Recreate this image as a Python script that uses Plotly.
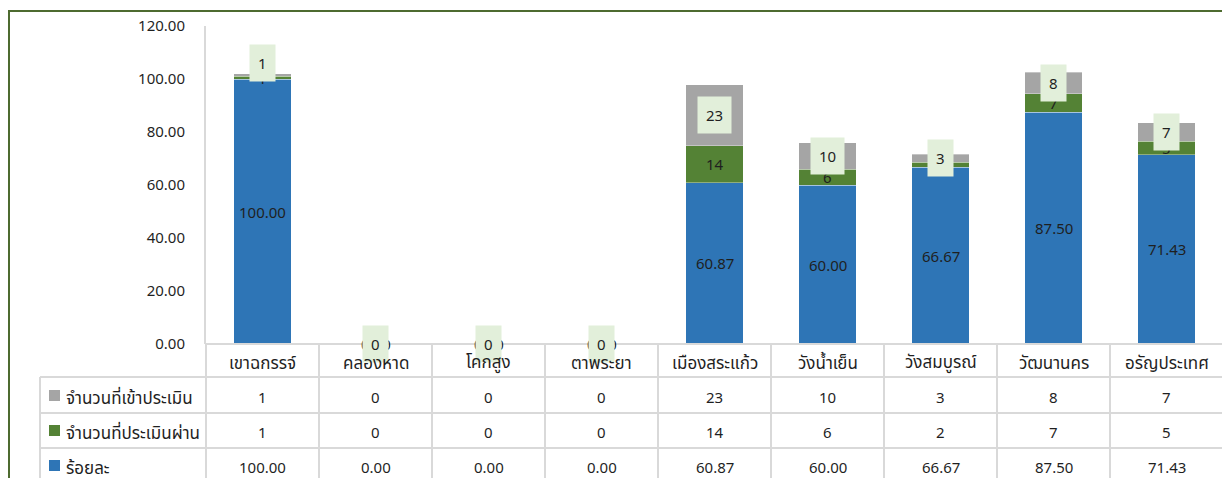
import plotly.graph_objects as go

categories = ["เขาฉกรรจ์", "คลองหาด", "โคกสูง", "ตาพระยา", "เมืองสระแก้ว",
              "วังน้ำเย็น", "วังสมบูรณ์", "วัฒนานคร", "อรัญประเทศ"]
assessed = [1, 0, 0, 0, 23, 10, 3, 8, 7]        # จำนวนที่เข้าประเมิน
passed = [1, 0, 0, 0, 14, 6, 2, 7, 5]           # จำนวนที่ประเมินผ่าน
percent = [100.00, 0.00, 0.00, 0.00, 60.87, 60.00, 66.67, 87.50, 71.43]  # ร้อยละ
series_names = ["จำนวนที่เข้าประเมิน", "จำนวนที่ประเมินผ่าน", "ร้อยละ"]
y_ticks = [0, 20, 40, 60, 80, 100, 120]

C_BLUE, C_GREEN, C_GRAY = "#2E75B6", "#548235", "#A5A5A5"
GRID = "#D9D9D9"
TXT = "#1F1F1F"
FONT = "Noto Sans, Noto Sans Thai, Tahoma, sans-serif"
NUM_SIZE = 15
THAI_SIZE = 17
GRAY_LABEL_SHIFT = {0: 12}  # label nudged above the thin top segment (pixels)

OFF = 8  # page body margin
W, H = 1230 - OFF, 478 - OFF
L, R, T, B = 206 - OFF, 7, 26 - OFF, 134
PW, PH = W - L - R, H - T - B


def px_x(x):
    return (x - OFF - L) / PW


def px_y(y):
    return (H - B - (y - OFF)) / PH


fig = go.Figure()
fig.add_trace(go.Bar(x=categories, y=percent, name=series_names[2], marker_color=C_BLUE,
                     marker_line=dict(color="rgba(255,255,255,0.35)", width=1)))
fig.add_trace(go.Bar(x=categories, y=passed, name=series_names[1], marker_color=C_GREEN,
                     marker_line=dict(color="rgba(255,255,255,0.35)", width=1)))
fig.add_trace(go.Bar(x=categories, y=assessed, name=series_names[0], marker_color=C_GRAY,
                     marker_line=dict(color="rgba(255,255,255,0.35)", width=1)))

num_font = dict(size=NUM_SIZE, color=TXT, family=FONT)
thai_font = dict(size=THAI_SIZE, color=TXT, family=FONT)

ann = []
for i, (c, p, g, a) in enumerate(zip(categories, percent, passed, assessed)):
    ann.append(dict(x=c, y=p / 2, xref="x", yref="y", text=f"{p:.2f}", showarrow=False,
                    yanchor="middle", font=num_font))
    ann.append(dict(x=c, y=p + g / 2, xref="x", yref="y", text=f"{g}", showarrow=False,
                    yanchor="middle", font=num_font))
    ann.append(dict(x=c, y=p + g + a / 2, xref="x", yref="y", text=f"{a}", showarrow=False,
                    yanchor="middle", bgcolor="#E2EFDA", borderpad=8, font=num_font,
                    yshift=GRAY_LABEL_SHIFT.get(i, 0)))

# data table below the chart
row_centers_px = [362, 397, 432, 467]
row_values = [categories, [str(v) for v in assessed], [str(v) for v in passed],
              [f"{v:.2f}" for v in percent]]
for k, (rc, vals) in enumerate(zip(row_centers_px, row_values)):
    for c, v in zip(categories, vals):
        ann.append(dict(x=c, y=px_y(rc), xref="x", yref="paper", text=v, showarrow=False,
                        xanchor="center", yanchor="middle",
                        font=thai_font if k == 0 else num_font))

legend_colors = [C_GRAY, C_GREEN, C_BLUE]
shapes = []
for rc, name, col in zip(row_centers_px[1:], series_names, legend_colors):
    ann.append(dict(x=px_x(64), y=px_y(rc), xref="paper", yref="paper", text=name,
                    showarrow=False, xanchor="left", yanchor="middle", font=thai_font))
    shapes.append(dict(type="rect", xref="paper", yref="paper",
                       x0=px_x(49), x1=px_x(60), y0=px_y(rc + 4), y1=px_y(rc - 7),
                       fillcolor=col, line=dict(width=0)))

# table grid lines
row_lines_px = [377, 413, 448]
for yl in row_lines_px:
    shapes.append(dict(type="line", xref="paper", yref="paper", x0=px_x(40), x1=1,
                       y0=px_y(yl), y1=px_y(yl), line=dict(color=GRID, width=2)))
shapes.append(dict(type="line", xref="paper", yref="paper", x0=0, x1=1,
                   y0=0, y1=0, line=dict(color=GRID, width=2)))
n = len(categories)
for i in range(n + 1):
    shapes.append(dict(type="line", xref="paper", yref="paper", x0=i / n, x1=i / n,
                       y0=0, y1=px_y(500), line=dict(color=GRID, width=2)))
shapes.append(dict(type="line", xref="paper", yref="paper", x0=px_x(40), x1=px_x(40),
                   y0=px_y(377), y1=px_y(500), line=dict(color=GRID, width=2)))
# outer chart border
shapes.append(dict(type="rect", xref="paper", yref="paper", x0=px_x(9), x1=px_x(1228),
                   y0=px_y(500), y1=px_y(11), line=dict(color="#4E6B30", width=2),
                   fillcolor="rgba(0,0,0,0)", layer="above"))

fig.update_layout(
    width=W, height=H, barmode="stack", bargap=0.49,
    margin=dict(l=L, r=R, t=T, b=B),
    plot_bgcolor="white", paper_bgcolor="white",
    showlegend=False,
    font=dict(family=FONT, size=NUM_SIZE, color=TXT),
    annotations=ann, shapes=shapes,
    xaxis=dict(showticklabels=False, showline=False, showgrid=False, zeroline=False),
    yaxis=dict(range=[0, 120], tickvals=y_ticks, tickformat=".2f", showgrid=False,
               zeroline=False, showline=True, linecolor=GRID, linewidth=2,
               ticklabelstandoff=16, tickfont=num_font),
)

fig.write_html("out.html")
